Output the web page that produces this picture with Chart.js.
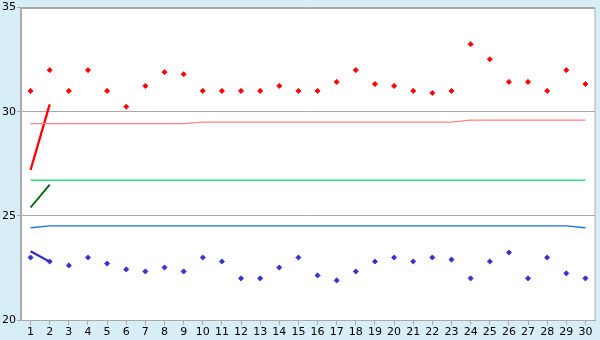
<!DOCTYPE html>
<html>
<head>
<meta charset="utf-8">
<script src="https://cdn.jsdelivr.net/npm/chart.js@4/dist/chart.umd.min.js"></script>
<style>
  html, body { margin: 0; padding: 0; background: #d8eef6; }
  #wrap { width: 600px; height: 340px; }
</style>
</head>
<body>
<div id="wrap"><canvas id="myChart" width="600" height="340"></canvas></div>
<script>
const days = [1,2,3,4,5,6,7,8,9,10,11,12,13,14,15,16,17,18,19,20,21,22,23,24,25,26,27,28,29,30];
const yTicks = [20, 25, 30, 35];

const highs = [31.0,32.0,31.0,32.0,31.0,30.24,31.24,31.9,31.8,31.0,31.0,31.0,31.0,31.24,31.0,31.0,31.43,32.0,31.33,31.24,31.0,30.9,31.0,33.24,32.52,31.43,31.43,31.0,32.0,31.33];
const lows = [23.0,22.81,22.62,23.0,22.71,22.43,22.33,22.52,22.33,23.0,22.81,22.0,22.0,22.52,23.0,22.14,21.9,22.33,22.81,23.0,22.81,23.0,22.9,22.0,22.81,23.24,22.0,23.0,22.24,22.0];

const avgHigh = [29.43,29.43,29.43,29.43,29.43,29.43,29.43,29.43,29.43,29.5,29.5,29.5,29.5,29.5,29.5,29.5,29.5,29.5,29.5,29.5,29.5,29.5,29.5,29.6,29.6,29.6,29.6,29.6,29.6,29.6];
const avgMid = [26.71,26.71,26.71,26.71,26.71,26.71,26.71,26.71,26.71,26.71,26.71,26.71,26.71,26.71,26.71,26.71,26.71,26.71,26.71,26.71,26.71,26.71,26.71,26.71,26.71,26.71,26.71,26.71,26.71,26.71];
const avgLow = [24.43,24.52,24.52,24.52,24.52,24.52,24.52,24.52,24.52,24.52,24.52,24.52,24.52,24.52,24.52,24.52,24.52,24.52,24.52,24.52,24.52,24.52,24.52,24.52,24.52,24.52,24.52,24.52,24.52,24.43];

const trendDays = [1, 2];
const trendHigh = [27.2, 30.35];
const trendMid = [25.4, 26.5];
const trendLow = [23.3, 22.8];

function pts(xs, ys) {
  return ys.map((v, i) => ({ x: xs[i], y: v }));
}

const areaPlugin = {
  id: "area",
  beforeDraw(chart) {
    const c = chart.ctx, a = chart.chartArea;
    c.save();
    c.fillStyle = "#d8eef6";
    c.fillRect(0, 0, chart.width, chart.height);
    c.fillStyle = "#ffffff";
    c.fillRect(a.left, a.top, a.right - a.left, a.bottom - a.top);
    c.restore();
  },
  afterDraw(chart) {
    const c = chart.ctx, a = chart.chartArea;
    c.save();
    c.strokeStyle = "#aaaaaa";
    c.lineWidth = 1;
    c.strokeRect(Math.round(a.left) - 0.5, Math.round(a.top) + 0.5,
                 Math.round(a.right - a.left) + 0.5, Math.round(a.bottom - a.top));
    c.restore();
  }
};

const lineDs = (label, xs, ys, color, w) => ({
  type: "line", label, data: pts(xs, ys), borderColor: color, borderWidth: w,
  pointRadius: 0, fill: false, tension: 0
});
const dotDs = (label, ys, color) => ({
  type: "scatter", label, data: pts(days, ys), backgroundColor: color, borderColor: color,
  pointStyle: "rectRot", pointRadius: 2.6, borderWidth: 0.8
});

const ctx = document.getElementById("myChart");
var myChart = new Chart(ctx, {
  data: {
    datasets: [
      lineDs("avg high", days, avgHigh, "#ff8080", 1.3),
      lineDs("avg mid", days, avgMid, "#33e080", 1.3),
      lineDs("avg low", days, avgLow, "#1a75d9", 1.3),
      lineDs("trend high", trendDays, trendHigh, "#ff0000", 2.3),
      lineDs("trend mid", trendDays, trendMid, "#006400", 1.8),
      lineDs("trend low", trendDays, trendLow, "#3333cc", 2.3),
      dotDs("high", highs, "#ff0000"),
      dotDs("low", lows, "#3333cc"),
    ],
  },
  options: {
    responsive: false,
    animation: false,
    layout: { padding: { top: 5, right: 5, left: 0, bottom: 0 } },
    plugins: { legend: { display: false }, tooltip: { enabled: false } },
    scales: {
      x: {
        type: "linear", min: 0.5, max: 30.5,
        afterBuildTicks: (s) => { s.ticks = days.map((d) => ({ value: d })); },
        afterFit: (s) => { s.height = 20; },
        grid: { drawOnChartArea: false, tickLength: 5, color: "#aaaaaa" },
        border: { color: "#aaaaaa", width: 1 },
        ticks: { color: "#000", padding: 1, maxRotation: 0, autoSkip: false,
                 font: { family: "DejaVu Sans", size: 11 } },
      },
      y: {
        min: 20, max: 35,
        afterBuildTicks: (s) => { s.ticks = yTicks.map((v) => ({ value: v })); },
        afterFit: (s) => { s.width = 21; },
        grid: { color: "#aaaaaa", tickLength: 4, lineWidth: 1 },
        border: { color: "#aaaaaa", width: 1 },
        ticks: { color: "#000", padding: 1, font: { family: "DejaVu Sans", size: 11 } },
      },
    },
  },
  plugins: [areaPlugin],
});
</script>
</body>
</html>
